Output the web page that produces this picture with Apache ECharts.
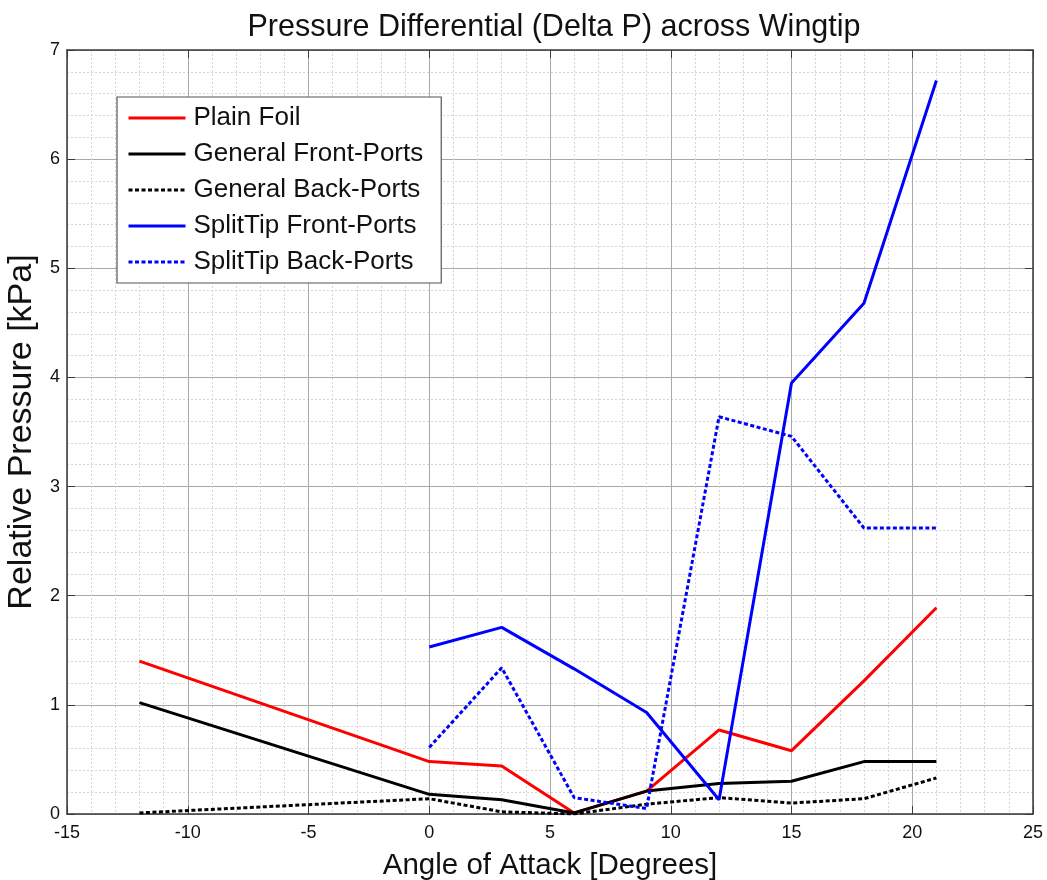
<!DOCTYPE html>
<html>
<head>
<meta charset="utf-8">
<title>Pressure Differential (Delta P) across Wingtip</title>
<script src="https://cdn.jsdelivr.net/npm/echarts@6/dist/echarts.min.js"></script>
<style>
  html, body { margin: 0; padding: 0; background: #fff; }
  #chart { width: 1047px; height: 880px; }
</style>
</head>
<body>
<div id="chart"></div>
<script>
// Angle of attack (degrees) for each configuration
const angles = [-12, 0, 3, 6, 9, 12, 15, 18, 21];
const splitAngles = [0, 3, 6, 9, 12, 15, 18, 21];

// Relative pressure [kPa]
const plainFoil    = [1.40, 0.48, 0.44, 0.01, 0.21, 0.77, 0.58, 1.22, 1.89];
const generalFront = [1.02, 0.18, 0.13, 0.01, 0.21, 0.28, 0.30, 0.48, 0.48];
const generalBack  = [0.01, 0.14, 0.02, 0.00, 0.09, 0.15, 0.10, 0.14, 0.33];
const splitFront   = [1.53, 1.71, 1.33, 0.93, 0.13, 3.95, 4.68, 6.72];
const splitBack    = [0.61, 1.34, 0.15, 0.05, 3.64, 3.46, 2.62, 2.62];

const seriesNames = [
  'Plain Foil',
  'General Front-Ports',
  'General Back-Ports',
  'SplitTip Front-Ports',
  'SplitTip Back-Ports'
];

const pairs = (xs, ys) => xs.map((x, i) => [x, ys[i]]);

const FONT = '"Liberation Sans", Arial, Helvetica, sans-serif';
const dots = [4, 2.5];

function lineSeries(name, xs, ys, color, dashed) {
  return {
    name: name,
    type: 'line',
    data: pairs(xs, ys),
    symbol: 'none',
    animation: false,
    color: color,
    lineStyle: { color: color, width: 3, type: dashed ? dots : 'solid' },
    z: 3
  };
}

const frameColor = '#3a3a3a';
const majorGrid = { show: true, lineStyle: { color: '#a8a8a8', width: 1, type: 'solid' } };
const minorGrid = { show: true, lineStyle: { color: '#d6d6d6', width: 1, type: [2, 2] } };
const tickIn = { show: true, inside: true, length: 8, lineStyle: { color: frameColor, width: 1 } };

const chart = echarts.init(document.getElementById('chart'), null, { renderer: 'canvas' });

chart.setOption({
  backgroundColor: '#ffffff',
  animation: false,
  title: {
    text: 'Pressure Differential (Delta P) across Wingtip',
    left: 549,
    textAlign: 'center',
    top: 7,
    textStyle: { fontFamily: FONT, fontSize: 30.5, fontWeight: 'normal', color: '#111' }
  },
  grid: {
    left: 67, right: 14, top: 50, bottom: 66,
    containLabel: false,
    outerBoundsMode: 'none'
  },
  legend: {
    orient: 'vertical',
    left: 117,
    top: 97,
    data: seriesNames,
    itemWidth: 57,
    itemHeight: 14,
    itemGap: 6,
    padding: [6, 18, 6, 10],
    backgroundColor: '#ffffff',
    borderColor: '#555555',
    borderWidth: 1.2,
    borderRadius: 0,
    itemStyle: { opacity: 0 },
    lineStyle: { width: 3 },
    textStyle: { fontFamily: FONT, fontSize: 26, color: '#111', lineHeight: 30, padding: [0, 0, 0, 3] }
  },
  xAxis: [
    {
      type: 'value',
      min: -15, max: 25, interval: 5,
      position: 'bottom',
      name: 'Angle of Attack [Degrees]',
      nameLocation: 'middle',
      nameGap: 37,
      nameTextStyle: { fontFamily: FONT, fontSize: 29.5, color: '#111' },
      axisLine: { show: true, onZero: false, lineStyle: { color: frameColor, width: 1.5 } },
      axisTick: tickIn,
      axisLabel: { fontFamily: FONT, fontSize: 18, color: '#111', margin: 10 },
      splitLine: majorGrid,
      minorTick: { show: false, splitNumber: 5 },
      minorSplitLine: minorGrid
    },
    {
      type: 'value',
      min: -15, max: 25, interval: 5,
      position: 'top',
      axisLine: { show: true, onZero: false, lineStyle: { color: frameColor, width: 1.5 } },
      axisTick: tickIn,
      axisLabel: { show: false },
      splitLine: { show: false }
    }
  ],
  yAxis: [
    {
      type: 'value',
      min: 0, max: 7, interval: 1,
      position: 'left',
      name: 'Relative Pressure [kPa]',
      nameLocation: 'middle',
      nameGap: 27,
      nameTextStyle: { fontFamily: FONT, fontSize: 34, color: '#111' },
      axisLine: { show: true, onZero: false, lineStyle: { color: frameColor, width: 1.5 } },
      axisTick: tickIn,
      axisLabel: { fontFamily: FONT, fontSize: 18, color: '#111', margin: 7 },
      splitLine: majorGrid,
      minorTick: { show: false, splitNumber: 5 },
      minorSplitLine: minorGrid
    },
    {
      type: 'value',
      min: 0, max: 7, interval: 1,
      position: 'right',
      axisLine: { show: true, onZero: false, lineStyle: { color: frameColor, width: 1.5 } },
      axisTick: tickIn,
      axisLabel: { show: false },
      splitLine: { show: false }
    }
  ],
  series: [
    lineSeries(seriesNames[0], angles, plainFoil, '#ff0000', false),
    lineSeries(seriesNames[1], angles, generalFront, '#000000', false),
    lineSeries(seriesNames[2], angles, generalBack, '#000000', true),
    lineSeries(seriesNames[3], splitAngles, splitFront, '#0000ff', false),
    lineSeries(seriesNames[4], splitAngles, splitBack, '#0000ff', true)
  ]
});
</script>
</body>
</html>
